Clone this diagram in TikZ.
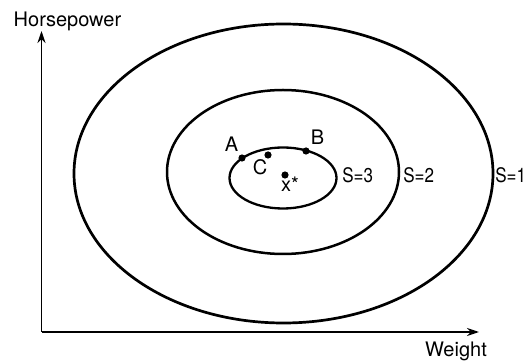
\documentclass[tikz,border=0pt]{standalone}
\usepackage{fontspec}
\usepackage{graphicx}
\setmainfont{TeX Gyre Heros}
\usetikzlibrary{arrows.meta}
\newcommand{\slab}[1]{\scalebox{0.85}[1]{#1}}
\begin{document}
\begin{tikzpicture}[x=0.5pt, y=-0.5pt,
    dot/.style={circle, fill, inner sep=0pt, minimum size=3.6pt},
    lbl/.style={anchor=base, inner sep=0pt}]
    \useasboundingbox (0,0) rectangle (525,363);

    %axis
    \coordinate (origin) at (41.5,332);
    \coordinate (hptop) at (41.5,31);
    \coordinate (wtend) at (479,332);
    \draw[line width=0.85pt, -{Stealth[length=6pt, width=4pt]}] (origin) -- (hptop);
    \draw[line width=0.85pt, -{Stealth[length=6pt, width=4pt]}] (origin) -- (wtend);
    \node[lbl] (hplabel) at (67.5,27) {Horsepower};
    \node[lbl] (wtlabel) at (456,357) {Weight};

    %contours
    \draw[line width=1.35pt] (283.5,173.5) ellipse [x radius=209.5, y radius=149.5];
    \draw[line width=1.25pt] (283,172) ellipse [x radius=116, y radius=82];
    \draw[line width=1.15pt] (283,178) ellipse [x radius=53.5, y radius=30.5];
    \node[lbl, anchor=base west] (s3) at (342,183) {\slab{S=3}};
    \node[lbl, anchor=base west] (s2) at (403,183) {\slab{S=2}};
    \node[lbl, anchor=base west] (s1) at (495,183) {\slab{S=1}};

    %points
    \node[dot] (ptA) at (242,158) {};
    \node[dot] (ptB) at (306,151) {};
    \node[dot] (ptC) at (268,155) {};
    \node[dot] (ptX) at (285,175) {};
    \node[lbl] (labA) at (231.5,152) {A};
    \node[lbl] (labB) at (317.5,145) {B};
    \node[lbl] (labC) at (260,175) {C};
    \node[lbl] (labX) at (290,192) {x*};
\end{tikzpicture}
\end{document}
